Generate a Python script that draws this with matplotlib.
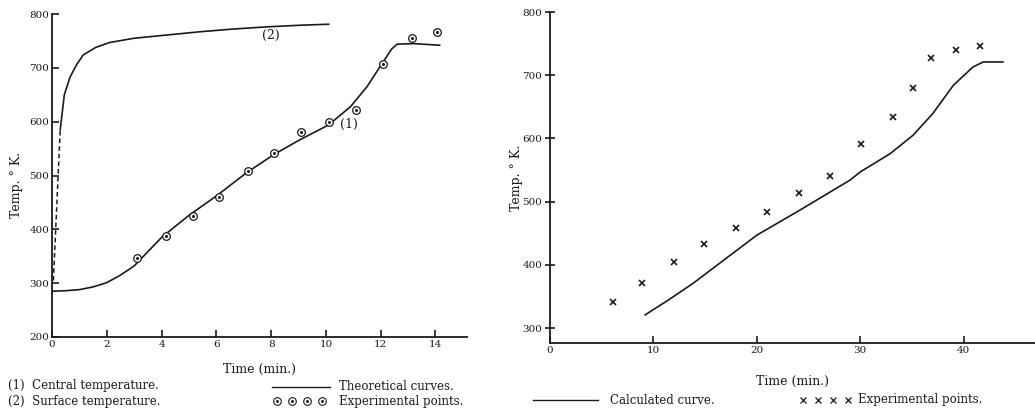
import matplotlib
matplotlib.use("Agg")
import matplotlib.pyplot as plt
from matplotlib.lines import Line2D

plt.rcParams['font.family'] = ['DejaVu Serif']

# ---- Left chart data ----
central_t = [0.0, 0.5, 1.0, 1.5, 2.0, 2.5, 3.0, 4.0, 5.0, 6.0, 7.1, 8.1, 9.0, 10.1, 10.9, 11.5, 12.05, 12.4, 12.6, 13.2, 14.15]
central_T = [285, 286, 288, 293, 301, 315, 332, 385, 426, 462, 505, 539, 565, 594, 628, 665, 708, 735, 744, 745, 742]
surface_t = [0.3, 0.45, 0.66, 0.9, 1.14, 1.6, 2.1, 3.0, 4.2, 5.4, 6.6, 7.8, 9.0, 10.1]
surface_T = [585, 650, 683, 706, 724, 738, 747, 755, 761, 767, 772, 776, 779, 781]
dash_t = [0.05, 0.3]
dash_T = [305, 585]
exp_left_t = [3.1, 4.15, 5.14, 6.1, 7.14, 8.1, 9.1, 10.1, 11.1, 12.1, 13.15, 14.07]
exp_left_T = [346, 388, 424, 460, 508, 542, 581, 599, 622, 707, 756, 767]

# ---- Right chart data ----
calc_t = [9.2, 11.5, 13.85, 17.0, 20.0, 24.2, 29.0, 30.0, 32.9, 35.1, 37.0, 39.0, 40.9, 41.9, 43.8]
calc_T = [321, 345, 371, 410, 447, 487, 534, 547, 576, 605, 639, 684, 713, 721, 721]
exp_right_t = [6.06, 8.9, 12.0, 14.9, 18.0, 21.0, 24.06, 27.1, 30.05, 33.2, 35.1, 36.8, 39.3, 41.6]
exp_right_T = [341, 371, 404, 433, 459, 484, 514, 541, 592, 634, 680, 727, 740, 746]

left_xticks = [0, 2, 4, 6, 8, 10, 12, 14]
left_yticks = [200, 300, 400, 500, 600, 700, 800]
right_xticks = [0, 10, 20, 30, 40]
right_yticks = [300, 400, 500, 600, 700, 800]

W, H = 1035, 412
fig = plt.figure(figsize=(W / 100, H / 100), dpi=100)
ink = '#1a1a1a'

def px(x0, y0, x1, y1):
    return [x0 / W, 1 - y1 / H, (x1 - x0) / W, (y1 - y0) / H]

def style(ax):
    for s in ['top', 'right']:
        ax.spines[s].set_visible(False)
    for s in ['left', 'bottom']:
        ax.spines[s].set_linewidth(1.3)
        ax.spines[s].set_color(ink)
    ax.tick_params(direction='in', length=5, width=1.2, labelsize=7.5, colors=ink, pad=2)

# Left axes
ax1 = fig.add_axes(px(52, 14, 467, 337))
style(ax1)
ax1.set_xlim(0, 15.15)
ax1.set_ylim(200, 800)
ax1.set_xticks(left_xticks)
ax1.set_yticks(left_yticks)
ax1.plot(central_t, central_T, color=ink, lw=1.2)
ax1.plot(surface_t, surface_T, color=ink, lw=1.2)
ax1.plot(dash_t, dash_T, color=ink, lw=1.1, ls=(0, (3, 2)))
ax1.plot(exp_left_t, exp_left_T, ls='none', marker='o', ms=5.5, mfc='white', mec=ink, mew=0.9)
ax1.plot(exp_left_t, exp_left_T, ls='none', marker='o', ms=1.2, color=ink)
ax1.text(8.0, 761, '(2)', fontsize=9, ha='center', va='center', color=ink)
ax1.text(10.85, 595, '(1)', fontsize=9, ha='center', va='center', color=ink)
ax1.set_xlabel('Time (min.)', fontsize=9, color=ink, labelpad=10)
ax1.set_ylabel('Temp. ° K.', fontsize=9, color=ink)
ax1.yaxis.set_label_coords((23 - 52) / 415, 0.47)

# Right axes
ax2 = fig.add_axes(px(550, 12, 1035, 343.3))
style(ax2)
ax2.tick_params(axis='y', direction='inout', length=7)
ax2.set_xlim(0, 46.9)
ax2.set_ylim(276, 800)
ax2.set_xticks(right_xticks)
ax2.set_yticks(right_yticks)
ax2.plot(calc_t, calc_T, color=ink, lw=1.2)
ax2.plot(exp_right_t, exp_right_T, ls='none', marker='x', ms=4.5, mew=1.2, color=ink)
ax2.set_xlabel('Time (min.)', fontsize=9, color=ink, labelpad=14)
ax2.set_ylabel('Temp. ° K.', fontsize=9, color=ink)
ax2.yaxis.set_label_coords((523 - 550) / 485, 0.5)

# Legends as figure text
fs = 8.5
fig.text(8 / W, 1 - 386 / H, '(1)  Central temperature.', fontsize=fs, va='center', color=ink)
fig.text(8 / W, 1 - 401 / H, '(2)  Surface temperature.', fontsize=fs, va='center', color=ink)
fig.add_artist(Line2D([272 / W, 330 / W], [1 - 387 / H, 1 - 387 / H], color=ink, lw=1.0))
fig.text(339 / W, 1 - 386 / H, 'Theoretical curves.', fontsize=fs, va='center', color=ink)
for cx in [277, 292, 307, 322]:
    fig.add_artist(Line2D([cx / W], [1 - 401 / H], marker='o', ms=5.5, mfc='white', mec=ink, mew=0.8, ls='none'))
    fig.add_artist(Line2D([cx / W], [1 - 401 / H], marker='o', ms=1.1, color=ink, ls='none'))
fig.text(339 / W, 1 - 401 / H, 'Experimental points.', fontsize=fs, va='center', color=ink)

fig.add_artist(Line2D([533 / W, 598 / W], [1 - 400 / H, 1 - 400 / H], color=ink, lw=1.0))
fig.text(610 / W, 1 - 400 / H, 'Calculated curve.', fontsize=fs, va='center', color=ink)
for cx in [803, 818, 833, 848]:
    fig.add_artist(Line2D([cx / W], [1 - 400 / H], marker='x', ms=4, mew=0.9, color=ink, ls='none'))
fig.text(858 / W, 1 - 400 / H, 'Experimental points.', fontsize=fs, va='center', color=ink)

fig.savefig('out.png', dpi=100, facecolor='white')
